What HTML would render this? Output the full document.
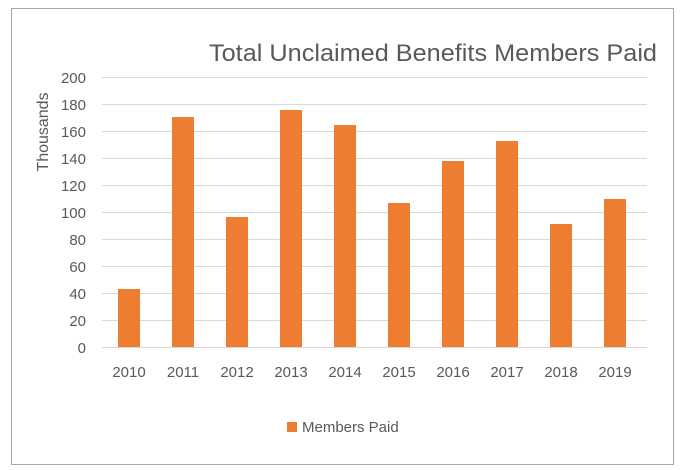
<!DOCTYPE html>
<html><head><style>
html,body{margin:0;padding:0;background:#fff;}
</style></head><body>
<svg width="684" height="470" xmlns="http://www.w3.org/2000/svg" style="display:block;font-family:'Liberation Sans',sans-serif">
<rect x="11.5" y="8.5" width="662" height="456" fill="#fff" stroke="#a6a6a6" stroke-width="1"/>
<text x="209" y="61" textLength="448" lengthAdjust="spacingAndGlyphs" font-size="24" fill="#595959">Total Unclaimed Benefits Members Paid</text>
<g stroke="#d9d9d9" stroke-width="1">
<line x1="102" x2="647" y1="77.5" y2="77.5"/>
<line x1="102" x2="647" y1="104.5" y2="104.5"/>
<line x1="102" x2="647" y1="131.5" y2="131.5"/>
<line x1="102" x2="647" y1="158.5" y2="158.5"/>
<line x1="102" x2="647" y1="185.5" y2="185.5"/>
<line x1="102" x2="647" y1="212.5" y2="212.5"/>
<line x1="102" x2="647" y1="239.5" y2="239.5"/>
<line x1="102" x2="647" y1="266.5" y2="266.5"/>
<line x1="102" x2="647" y1="293.5" y2="293.5"/>
<line x1="102" x2="647" y1="320.5" y2="320.5"/>
<line x1="102" x2="647" y1="347.5" y2="347.5"/>
</g>
<g font-size="15" fill="#595959" text-anchor="end">
<text x="86" y="83">200</text><text x="86" y="110">180</text><text x="86" y="137">160</text>
<text x="86" y="164">140</text><text x="86" y="191">120</text><text x="86" y="218">100</text>
<text x="86" y="245">80</text><text x="86" y="272">60</text><text x="86" y="299">40</text>
<text x="86" y="326">20</text><text x="86" y="353">0</text>
</g>
<text transform="translate(48,132) rotate(-90)" text-anchor="middle" font-size="16" fill="#595959">Thousands</text>
<g fill="#ed7d31">
<rect x="118" y="289" width="22" height="58"/>
<rect x="172" y="117" width="22" height="230"/>
<rect x="226" y="217" width="22" height="130"/>
<rect x="280" y="110" width="22" height="237"/>
<rect x="334" y="125" width="22" height="222"/>
<rect x="388" y="203" width="22" height="144"/>
<rect x="442" y="161" width="22" height="186"/>
<rect x="496" y="141" width="22" height="206"/>
<rect x="550" y="224" width="22" height="123"/>
<rect x="604" y="199" width="22" height="148"/>
</g>
<g font-size="15" fill="#595959" text-anchor="middle">
<text x="129" y="377">2010</text><text x="183" y="377">2011</text><text x="237" y="377">2012</text>
<text x="291" y="377">2013</text><text x="345" y="377">2014</text><text x="399" y="377">2015</text>
<text x="453" y="377">2016</text><text x="507" y="377">2017</text><text x="561" y="377">2018</text>
<text x="615" y="377">2019</text>
</g>
<rect x="287" y="422" width="10" height="10" fill="#ed7d31"/>
<text x="302" y="432" font-size="15" fill="#595959">Members Paid</text>
</svg>
</body></html>
